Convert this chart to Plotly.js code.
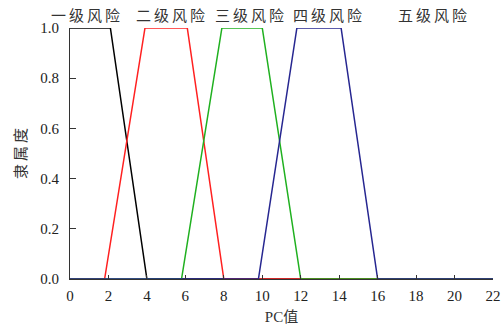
<!DOCTYPE html>
<html>
<head>
<meta charset="utf-8">
<script src="https://cdn.plot.ly/plotly-3.0.1.min.js"></script>
<style>body{margin:0;padding:0;background:#fff;}#chart{width:501px;height:326px;}</style>
</head>
<body>
<div id="chart"></div>
<script>
// Membership functions (trapezoid vertices)
const level1X = [0, 2.1, 4.0, 22];
const level1Y = [1, 1, 0, 0];
const level2X = [0, 1.8, 3.9, 6.1, 8.0, 22];
const level2Y = [0, 0, 1, 1, 0, 0];
const level3X = [0, 5.8, 7.9, 10.0, 12.0, 22];
const level3Y = [0, 0, 1, 1, 0, 0];
const level4X = [0, 9.8, 11.8, 14.1, 16.0, 22];
const level4Y = [0, 0, 1, 1, 0, 0];
const levelNames = ['一级风险', '二级风险', '三级风险', '四级风险', '五级风险'];
const labelX = [0.8, 5.25, 9.35, 13.4, 18.85];
const xTicks = [0, 2, 4, 6, 8, 10, 12, 14, 16, 18, 20, 22];
const yTicks = [0, 0.2, 0.4, 0.6, 0.8, 1.0];

const colors = ['#000000', '#ff2020', '#1fb01f', '#262690'];
const xs = [level1X, level2X, level3X, level4X];
const ys = [level1Y, level2Y, level3Y, level4Y];
const traces = xs.map((x, i) => ({
  x: x, y: ys[i], mode: 'lines', type: 'scatter',
  line: {color: colors[i], width: 1.5}, hoverinfo: 'skip', cliponaxis: false
}));

const spaced = s => Array.from(s).join('\u2009');
const tickFont = {family: 'Liberation Serif, Times New Roman, serif', size: 15, color: '#222'};
const cjkFont = {family: 'Liberation Serif, Noto Sans CJK SC, serif', size: 15, color: '#333'};

const annotations = levelNames.map((t, i) => ({
  x: labelX[i], y: 1, xref: 'x', yref: 'paper', yanchor: 'bottom', yshift: 2,
  text: spaced(t), showarrow: false, font: cjkFont
}));

const layout = {
  width: 501, height: 326,
  margin: {l: 70, r: 8, t: 28, b: 47},
  paper_bgcolor: '#fff', plot_bgcolor: '#fff',
  showlegend: false,
  xaxis: {
    range: [0, 22], tickvals: xTicks, ticktext: xTicks.map(String),
    ticks: 'inside', ticklen: 4, tickcolor: '#333', tickwidth: 1,
    showline: true, linecolor: '#333', linewidth: 1, mirror: false,
    showgrid: false, zeroline: false, tickfont: tickFont,
    ticklabeloverflow: 'allow', ticklabelstandoff: 3,
    title: {text: 'PC值', font: cjkFont, standoff: 8}
  },
  yaxis: {
    range: [0, 1], tickvals: yTicks, ticktext: yTicks.map(v => v.toFixed(1)),
    ticks: 'inside', ticklen: 6, tickcolor: '#333', tickwidth: 1,
    showline: true, linecolor: '#333', linewidth: 1,
    showgrid: false, zeroline: false, tickfont: tickFont,
    ticklabelstandoff: 7,
    title: {text: spaced('隶属度'), font: cjkFont, standoff: 10}
  },
  annotations: annotations
};

Plotly.newPlot('chart', traces, layout, {displayModeBar: false, staticPlot: true});
</script>
</body>
</html>
